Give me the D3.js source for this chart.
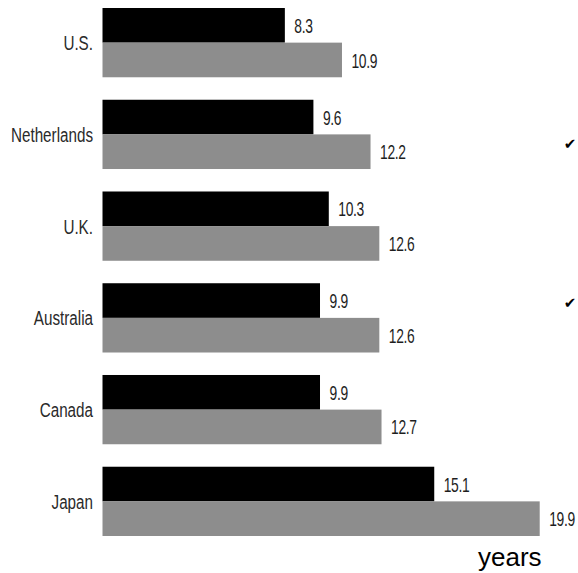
<!DOCTYPE html>
<html>
<head>
<meta charset="utf-8">
<script src="https://cdn.jsdelivr.net/npm/d3@7"></script>
<style>
  html, body { margin: 0; padding: 0; background: #fff; }
  svg { display: block; }
</style>
</head>
<body>
<svg id="chart" width="578" height="573"></svg>
<script>
// Countries, top to bottom
const categories = ["U.S.", "Netherlands", "U.K.", "Australia", "Canada", "Japan"];
// Upper (black) bar of each pair, in years
const seriesDark = [8.3, 9.6, 10.3, 9.9, 9.9, 15.1];
// Lower (grey) bar of each pair, in years
const seriesLight = [10.9, 12.2, 12.6, 12.6, 12.7, 19.9];
// Rows flagged with a check mark at the right edge
const checkedRows = ["Netherlands", "Australia"];
const unitLabel = "years";

const svg = d3.select("#chart");

const x = d3.scaleLinear().domain([0, 20]).range([102.5, 541.9]);
const y = d3.scaleBand().domain(categories).range([8, 536]).paddingInner(0.245).paddingOuter(0);
const sub = d3.scaleBand().domain(["dark", "light"]).range([0, y.bandwidth()]);

const rows = categories.map((c, i) => ({
  name: c,
  bars: [
    { key: "dark", value: seriesDark[i], fill: "#000000" },
    { key: "light", value: seriesLight[i], fill: "#8d8d8d" }
  ]
}));

const g = svg.selectAll("g.row").data(rows).join("g")
  .attr("class", "row")
  .attr("transform", d => `translate(0,${y(d.name)})`);

g.selectAll("rect").data(d => d.bars).join("rect")
  .attr("x", x(0))
  .attr("y", b => sub(b.key))
  .attr("width", b => x(b.value) - x(0))
  .attr("height", sub.bandwidth())
  .attr("fill", b => b.fill);

// Value labels, condensed
g.selectAll("text.val").data(d => d.bars).join("text")
  .attr("class", "val")
  .attr("transform", b => `translate(${x(b.value) + 9.5},${sub(b.key) + sub.bandwidth() / 2}) scale(0.66,1)`)
  .attr("dy", "0.36em")
  .attr("font-family", "'Liberation Sans', Arial, sans-serif")
  .attr("font-size", 21)
  .attr("letter-spacing", "-0.5")
  .attr("fill", "#1e1e1e")
  .text(b => b.value.toFixed(1));

// Category labels, condensed, right-aligned against the bars
g.append("text")
  .attr("transform", `translate(93,${y.bandwidth() / 2}) scale(0.725,1)`)
  .attr("dy", "0.36em")
  .attr("text-anchor", "end")
  .attr("font-family", "'Liberation Sans', Arial, sans-serif")
  .attr("font-size", 21)
  .attr("fill", "#2a2a2a")
  .text(d => d.name);

// Check marks at the right edge
const checkOffset = { "Netherlands": 9, "Australia": -15 };
svg.selectAll("text.check").data(checkedRows).join("text")
  .attr("class", "check")
  .attr("x", 570)
  .attr("y", d => y(d) + y.bandwidth() / 2 + checkOffset[d])
  .attr("dy", "0.35em")
  .attr("text-anchor", "middle")
  .attr("font-family", "'DejaVu Sans', sans-serif")
  .attr("font-size", 15)
  .attr("fill", "#000")
  .text("\u2714");

// Unit label
svg.append("text")
  .attr("x", 478)
  .attr("y", 566)
  .attr("font-family", "'Liberation Sans', Arial, sans-serif")
  .attr("font-size", 26)
  .attr("fill", "#000")
  .text(unitLabel);
</script>
</body>
</html>
